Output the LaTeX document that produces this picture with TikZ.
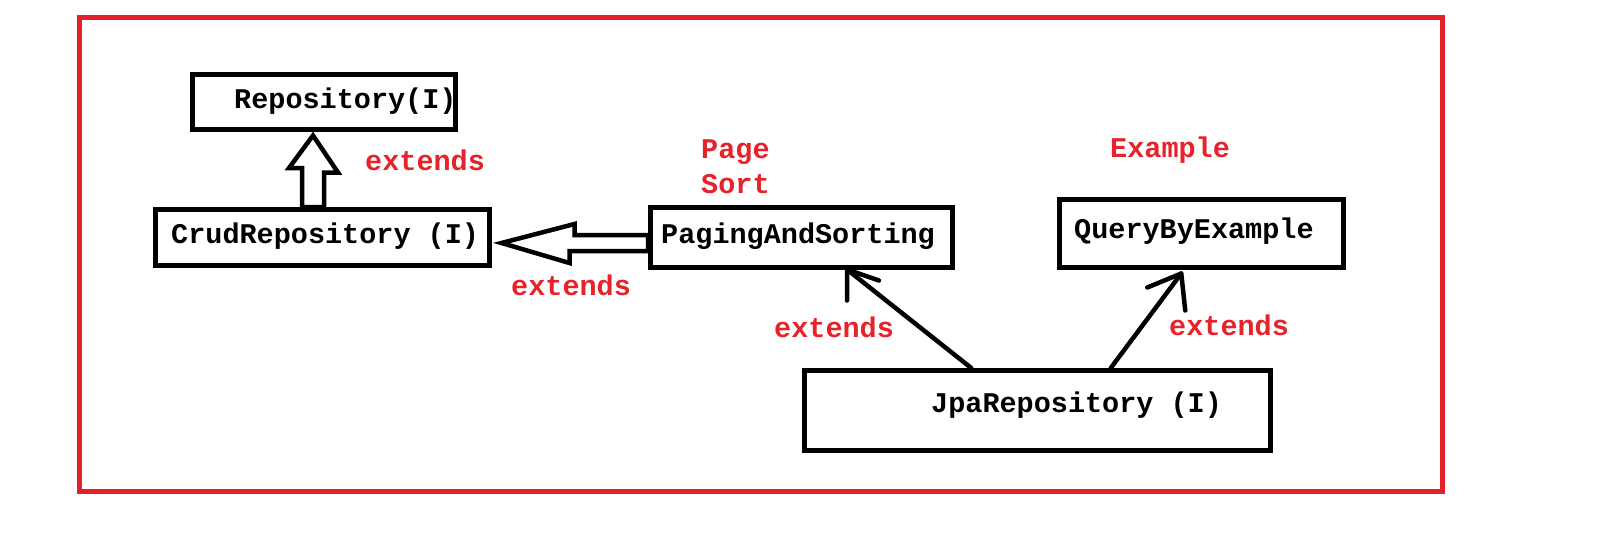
\documentclass[tikz,border=0pt]{standalone}
\usepackage{fontspec}
\setmonofont{Liberation Mono}
\usetikzlibrary{calc}
\definecolor{redline}{RGB}{228,32,40}
\definecolor{redtext}{RGB}{230,34,42}
\begin{document}
\begin{tikzpicture}[x=1pt,y=-1pt,
  box/.style={draw=black,line width=5pt,inner sep=0pt},
  lbl/.style={font=\ttfamily\bfseries\fontsize{28.5}{32}\selectfont,inner sep=0pt,anchor=base west,text=black},
  note/.style={lbl,text=redtext},
  fat/.style={draw=black,line width=4.5pt,fill=white,line join=miter},
  thinarrow/.style={draw=black,line width=4.5pt,line cap=round,line join=round}]
\useasboundingbox (0,0) rectangle (1600,538);
\draw[redline,line width=5pt] (79.5,17.5) rectangle (1442.5,491);

% boxes
\node[box,minimum width=263pt,minimum height=55pt] (repo) at (324,102) {};
\node[box,minimum width=334pt,minimum height=56pt] (crud) at (322.5,237.5) {};
\node[box,minimum width=302pt,minimum height=60pt] (paging) at (801.5,237.5) {};
\node[box,minimum width=284.5pt,minimum height=68pt] (query) at (1201.25,233.5) {};
\node[box,minimum width=465.5pt,minimum height=80pt] (jpa) at (1037.25,410.5) {};

% box texts
\node[lbl] (repoT) at (234,108) {Repository(I)};
\node[lbl] (crudT) at (171,243) {CrudRepository (I)};
\node[lbl] (pagingT) at (661,243) {PagingAndSorting};
\node[lbl] (queryT) at (1074,238) {QueryByExample};
\node[lbl] (jpaT) at (931,412) {JpaRepository (I)};

% red notes
\node[note] (ext1) at (365,170) {extends};
\node[note] (ext2) at (511,295) {extends};
\node[note] (ext3) at (774,337) {extends};
\node[note] (ext4) at (1169,335) {extends};
\node[note] (page) at (701,158) {Page};
\node[note] (sort) at (701,193) {Sort};
\node[note] (example) at (1110,157) {Example};

% hollow arrow Crud -> Repository
\coordinate (t1) at ($(repo.south)+(-11,3.5)$);
\draw[fat] (t1) -- ++(25,37) -- ++(-14,0) -- ($(crud.north)+(1.5,0)$) -- ($(crud.north)+(-20.5,0)$) -- ++(0,-39) -- ++(-13,0) -- cycle;

% hollow arrow PagingAndSorting -> Crud
\coordinate (t2) at ($(crud.east)+(9.5,5.5)$);
\draw[fat] (t2) -- ++(73,-19) -- ++(0,11) -- ($(paging.west)+(0,-2.5)$) -- ($(paging.west)+(0,13.5)$) -- ++(-78.5,0) -- ++(0,12) -- cycle;

% Jpa -> PagingAndSorting
\coordinate (t3) at ($(paging.south)+(45.5,-0.5)$);
\draw[thinarrow] ($(jpa.north)+(-66,0)$) -- (t3);
\draw[thinarrow] ($(t3)+(32,11)$) -- (t3) -- ++(0,31);

% Jpa -> QueryByExample
\coordinate (t4) at ($(query.south)+(-20,3.5)$);
\draw[thinarrow] ($(jpa.north)+(73.5,0)$) -- (t4);
\draw[thinarrow] ($(t4)+(-34,14)$) -- (t4) -- ++(4,37);
\end{tikzpicture}
\end{document}
